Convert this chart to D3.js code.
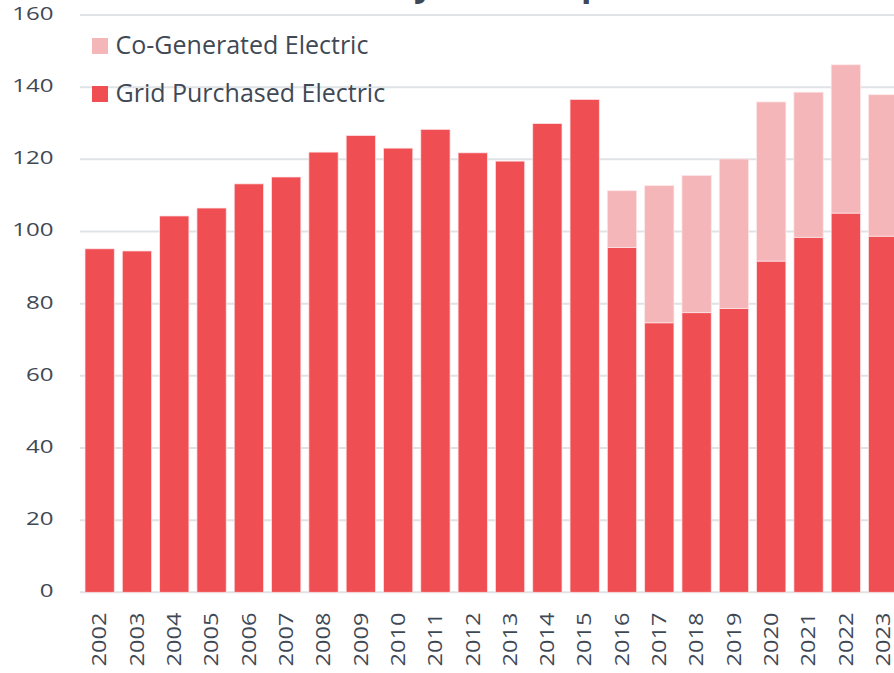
<!DOCTYPE html>
<html><head><meta charset="utf-8">
<script src="https://cdn.jsdelivr.net/npm/d3@7"></script>
<style>
html,body{margin:0;padding:0;background:#fff;overflow:hidden;}
svg{display:block;font-family:"Open Sans",sans-serif;}
</style></head>
<body><svg id="chart" width="894" height="673"></svg>
<script>
const titleText = "Electricity Consumption";
const years = ["2002","2003","2004","2005","2006","2007","2008","2009","2010","2011","2012","2013","2014","2015","2016","2017","2018","2019","2020","2021","2022","2023"];
const gridPurchased = [95.2,94.6,104.3,106.5,113.2,115.1,122.0,126.6,123.1,128.3,121.8,119.5,129.9,136.6,95.6,74.7,77.5,78.7,91.8,98.4,105.1,98.7];
const coGenerated  = [0,0,0,0,0,0,0,0,0,0,0,0,0,0,15.7,38.0,38.0,41.4,44.1,40.2,41.1,39.2];
const yTicks = [0,20,40,60,80,100,120,140,160];
const seriesNames = ["Co-Generated Electric","Grid Purchased Electric"];
const colors = {grid:"#EF4F53", cogen:"#F4B6B9"};
const textColor = "#3f4955";
const gridColor = "#dfe3e6";

const svg = d3.select("#chart");
const step = 37.31, pIn = 0.215, pOut = 0.134, left = 80;
const x = d3.scaleBand().domain(years)
  .range([left, left + step*(years.length - pIn + 2*pOut)])
  .paddingInner(pIn).paddingOuter(pOut);
const y = d3.scaleLinear().domain([0,160]).range([592.3, 15]);

// gridlines
svg.append("g").selectAll("line").data(yTicks).join("line")
  .attr("x1", left).attr("x2", 900)
  .attr("y1", d=>y(d)).attr("y2", d=>y(d))
  .attr("stroke", gridColor).attr("stroke-width", 2);

// y labels
svg.append("g").selectAll("text").data(yTicks).join("text")
  .attr("transform", d=>`translate(53.5,${y(d)-2.5}) scale(1.28,1)`)
  .attr("text-anchor","end").attr("dominant-baseline","central")
  .attr("font-size", 18.8).attr("fill", textColor)
  .text(d=>d);

// stacked data
const rows = years.map((yr,i)=>({year:yr, grid:gridPurchased[i], cogen:coGenerated[i]}));
const stack = d3.stack().keys(["grid","cogen"])(rows);

svg.append("g").selectAll("g").data(stack).join("g")
  .attr("fill", s=> s.key==="grid" ? colors.grid : colors.cogen)
  .selectAll("rect").data(s=>s.filter(d=>d[1]-d[0]>0)).join("rect")
  .attr("x", d=>x(d.data.year)).attr("width", x.bandwidth())
  .attr("y", d=>y(d[1])).attr("height", d=>y(d[0])-y(d[1]))
  .attr("stroke","rgba(255,230,232,0.9)").attr("stroke-width",0.8);

// x labels
svg.append("g").selectAll("text").data(years).join("text")
  .attr("transform", d=>`translate(${x(d)+x.bandwidth()/2-1},612.5) rotate(-90) scale(1.18,1)`)
  .attr("text-anchor","end").attr("dominant-baseline","central")
  .attr("font-size", 20).attr("fill", textColor)
  .text(d=>d);

// legend
const leg = svg.append("g");
const legItems = [{name:seriesNames[0], color:colors.cogen}, {name:seriesNames[1], color:colors.grid}];
legItems.forEach((it,i)=>{
  leg.append("rect").attr("x",92).attr("y",38+48*i).attr("width",16).attr("height",16).attr("fill",it.color);
  leg.append("text").attr("x",115.5).attr("y",54+48*i).attr("font-size",25).attr("fill",textColor).text(it.name);
});

// title (mostly cut off at top, as in the reference)
const t = svg.append("text").attr("y",-4.5).attr("font-size",36).attr("font-weight",700)
  .attr("fill",textColor).text(titleText);
const node = t.node();
const yIdx = titleText.indexOf("y"), pIdx = titleText.indexOf("p");
const dist = node.getSubStringLength(yIdx, pIdx - yIdx);
const fs = 36 * 167 / dist;
t.attr("font-size", fs);
const pre = node.getSubStringLength(0, yIdx);
t.attr("x", 414 - pre);
</script>
</body></html>
